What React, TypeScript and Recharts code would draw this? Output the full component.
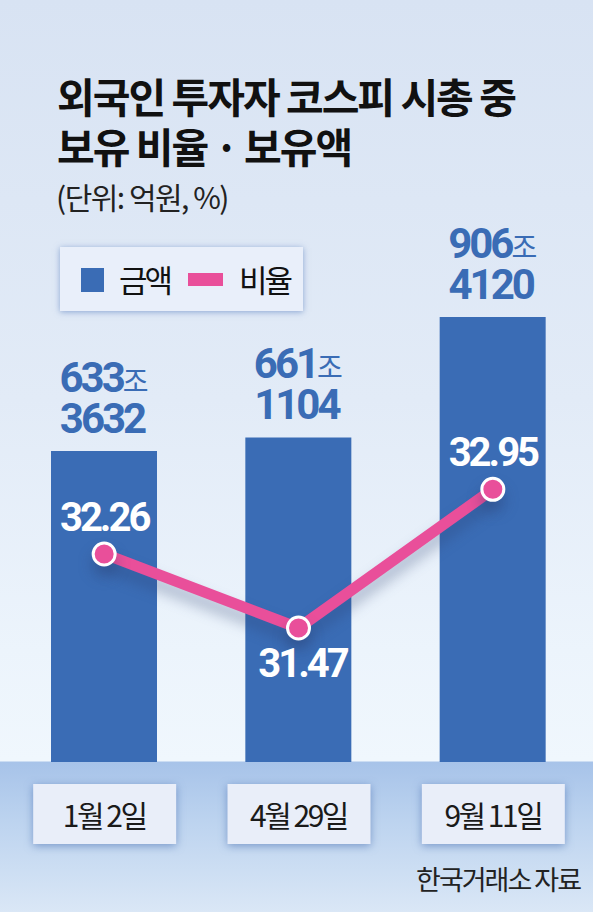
import React from 'react'
import { ComposedChart, Bar, Line, XAxis, YAxis, LabelList, Legend } from 'recharts'

// 외국인 보유액 (조 / 억) and 보유 비율 (%)
const dates = ['1월 2일', '4월 29일', '9월 11일']
const amountJo = [633, 661, 906]
const amountEok = [3632, 1104, 4120]
const ratio = [32.26, 31.47, 32.95]

const data = dates.map((d, i) => ({
    date: d,
    amount: amountJo[i] + amountEok[i] / 10000,
    ratio: ratio[i],
}))

const BLUE = '#3a6cb5'
const PINK = '#e94f9a'
const KR = "'Noto Sans CJK KR', 'Noto Sans', sans-serif"
const NUM = "Roboto, 'Noto Sans CJK KR', sans-serif"

const AmountLabel = (props: any) => {
    const { x, y, width, index } = props
    const cx = x + width / 2
    return (
        <g fill={BLUE} fontFamily={NUM} textAnchor="middle">
            <text x={cx} y={y - 59}>
                <tspan fontSize={42} fontWeight={700} letterSpacing={-3}>{amountJo[index]}</tspan>
                <tspan fontSize={28} fontFamily={KR} dx={0}>조</tspan>
            </text>
            <text x={cx - 2} y={y - 18} fontSize={42} fontWeight={700} letterSpacing={-3}>
                {amountEok[index]}
            </text>
        </g>
    )
}

const RatioLabel = (props: any) => {
    const { x, y, index, value } = props
    const below = index === 1
    return (
        <text
            x={x + (below ? 4 : 0)}
            y={below ? y + 49 : y - 23}
            textAnchor="middle"
            fill="#fff"
            fontFamily={NUM}
            fontSize={40}
            fontWeight={700}
            letterSpacing={-3}
        >
            {Number(value).toFixed(2)}
        </text>
    )
}

const DateTick = (props: any) => {
    const { x, y, payload } = props
    return (
        <g>
            <rect
                x={x - 71}
                y={y + 22}
                width={143}
                height={60}
                fill="#e9eef9"
                style={{ filter: 'drop-shadow(0 2px 4px rgba(60,100,170,0.55))' }}
            />
            <text
                x={x}
                y={y + 65}
                textAnchor="middle"
                fill="#1a1a1a"
                fontFamily={KR}
                fontSize={30}
                letterSpacing={-2.5}
            >
                {payload.value}
            </text>
        </g>
    )
}

const LegendBox = (props: any) => {
    const items = props.payload ?? []
    const bar = items.find((p: any) => p.type === 'rect') ?? { value: '금액' }
    const line = items.find((p: any) => p.type === 'line') ?? { value: '비율' }
    const txt: React.CSSProperties = {
        position: 'absolute',
        top: 16,
        fontSize: 31,
        lineHeight: '31px',
        letterSpacing: -3,
        color: '#111',
        fontFamily: KR,
    }
    return (
        <div
            style={{
                position: 'relative',
                width: 243,
                height: 64,
                background: '#e9effa',
                boxShadow: '0 1px 6px rgba(70,110,180,0.55)',
            }}
        >
            <span style={{ position: 'absolute', left: 21, top: 21, width: 23, height: 24, background: BLUE }} />
            <span style={{ ...txt, left: 59 }}>{bar.value}</span>
            <span style={{ position: 'absolute', left: 128, top: 26, width: 35, height: 13, background: PINK }} />
            <span style={{ ...txt, left: 179 }}>{line.value}</span>
        </div>
    )
}

export default function App() {
    return (
        <div
            style={{
                position: 'absolute',
                left: 0,
                top: 0,
                width: 593,
                height: 912,
                overflow: 'hidden',
                background:
                    'linear-gradient(to bottom, #d8e3f3 0px, #e2ebf7 400px, #ecf4fc 650px, #f0f7fd 761px, #a7c3e9 762px, #bcd3ef 820px, #dae7f6 912px)',
            }}
        >
            <svg width={593} height={912} style={{ position: 'absolute', left: 0, top: 0 }}>
                <g fontFamily={KR} fill="#111">
                    <text x={57} y={113} fontSize={41} fontWeight={700} letterSpacing={-2}>
                        외국인 투자자 코스피 시총 중
                    </text>
                    <text x={57} y={163} fontSize={41} fontWeight={700} letterSpacing={-2}>
                        보유 비율 · 보유액
                    </text>
                    <text x={56} y={209} fontSize={30} letterSpacing={-1.5} fill="#222">
                        (단위: 억원, %)
                    </text>
                    <text x={580} y={890} fontSize={27} letterSpacing={-2} textAnchor="end" fill="#222">
                        한국거래소 자료
                    </text>
                </g>
            </svg>
            <div style={{ position: 'absolute', left: 0, top: 0 }}>
                <ComposedChart
                    width={593}
                    height={912}
                    data={data}
                    margin={{ top: 271, right: 3, left: 7, bottom: 0 }}
                >
                    <XAxis
                        dataKey="date"
                        height={150}
                        axisLine={false}
                        tickLine={false}
                        tickSize={0}
                        tickMargin={0}
                        interval={0}
                        tick={<DateTick />}
                    />
                    <YAxis yAxisId="amt" hide domain={[0, 1000]} />
                    <YAxis yAxisId="pct" hide orientation="right" domain={[30.04, 35.28]} />
                    <Legend
                        verticalAlign="middle"
                        align="center"
                        layout="horizontal"
                        content={<LegendBox />}
                        wrapperStyle={{ top: 247, left: 60, width: 243, height: 64 }}
                    />
                    <Bar
                        yAxisId="amt"
                        dataKey="amount"
                        name="금액"
                        fill={BLUE}
                        barSize={106}
                        isAnimationActive={false}
                    >
                        <LabelList dataKey="amount" content={<AmountLabel />} />
                    </Bar>
                    <Line
                        yAxisId="pct"
                        dataKey="ratio"
                        name="비율"
                        type="linear"
                        stroke={PINK}
                        strokeWidth={11}
                        dot={{ r: 11, fill: PINK, stroke: '#fff', strokeWidth: 3 }}
                        activeDot={false}
                        isAnimationActive={false}
                        style={{ filter: 'drop-shadow(0 10px 7px rgba(40,60,110,0.35))' }}
                    >
                        <LabelList dataKey="ratio" content={<RatioLabel />} />
                    </Line>
                </ComposedChart>
            </div>
        </div>
    )
}
